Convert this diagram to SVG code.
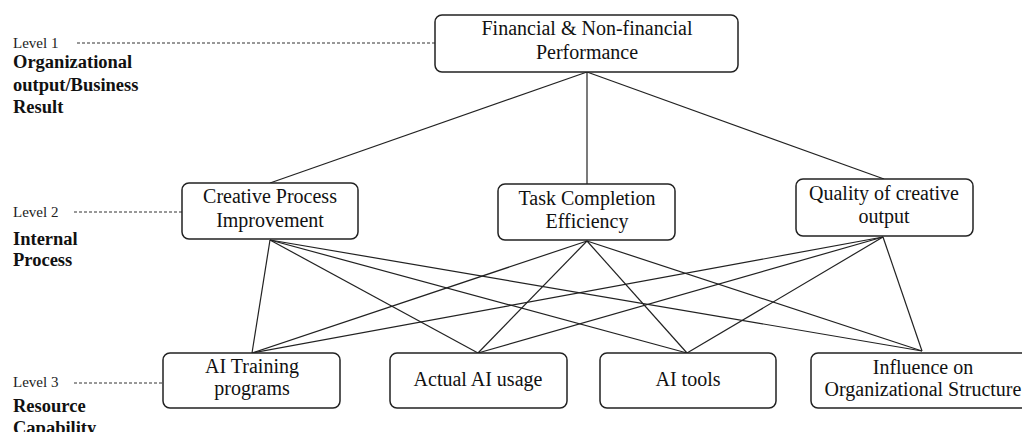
<svg xmlns="http://www.w3.org/2000/svg" width="1022" height="432" viewBox="0 0 1022 432">
  <style>
    .box { fill: #ffffff; stroke: #222222; stroke-width: 1.5; }
    .link { stroke: #222222; stroke-width: 1.2; fill: none; }
    .guide { stroke: #333333; stroke-width: 1; stroke-dasharray: 3 2; fill: none; }
    .label { font-family: "Liberation Serif", "Times New Roman", serif; font-size: 20px; fill: #111111; text-anchor: middle; }
    .lvl { font-family: "Liberation Serif", "Times New Roman", serif; font-size: 15px; fill: #222222; }
    .lvlname { font-family: "Liberation Serif", "Times New Roman", serif; font-size: 18.5px; font-weight: bold; fill: #111111; }
  </style>
  <rect width="1022" height="432" fill="#ffffff"/>

  <!-- level captions with dashed guides -->
  <g id="levels">
    <text class="lvl" x="13" y="48">Level 1</text>
    <line class="guide" x1="77" y1="43" x2="435" y2="43"/>
    <text class="lvlname" x="13" y="68">Organizational</text>
    <text class="lvlname" x="13" y="91">output/Business</text>
    <text class="lvlname" x="13" y="113">Result</text>

    <text class="lvl" x="13" y="217">Level 2</text>
    <line class="guide" x1="74" y1="212" x2="182" y2="212"/>
    <text class="lvlname" x="13" y="245">Internal</text>
    <text class="lvlname" x="13" y="266">Process</text>

    <text class="lvl" x="13" y="387">Level 3</text>
    <line class="guide" x1="74" y1="383" x2="163" y2="383"/>
    <text class="lvlname" x="13" y="412">Resource</text>
    <text class="lvlname" x="13" y="434">Capability</text>
  </g>

  <!-- connectors -->
  <g id="connectors">
    <line class="link" x1="587" y1="72" x2="270" y2="183"/>
    <line class="link" x1="587" y1="72" x2="587" y2="184"/>
    <line class="link" x1="587" y1="72" x2="884" y2="179"/>

    <line class="link" x1="270" y1="240" x2="252" y2="353"/>
    <line class="link" x1="270" y1="240" x2="478" y2="353"/>
    <line class="link" x1="270" y1="240" x2="687" y2="353"/>
    <line class="link" x1="270" y1="240" x2="922" y2="351"/>

    <line class="link" x1="587" y1="241" x2="252" y2="353"/>
    <line class="link" x1="587" y1="241" x2="478" y2="353"/>
    <line class="link" x1="587" y1="241" x2="687" y2="353"/>
    <line class="link" x1="587" y1="241" x2="922" y2="351"/>

    <line class="link" x1="883" y1="237" x2="252" y2="353"/>
    <line class="link" x1="883" y1="237" x2="478" y2="353"/>
    <line class="link" x1="883" y1="237" x2="687" y2="353"/>
    <line class="link" x1="883" y1="237" x2="922" y2="351"/>
  </g>

  <!-- level 1 -->
  <g id="node-performance">
    <rect class="box" x="435" y="15" width="303" height="57" rx="7"/>
    <text class="label" x="587" y="35">Financial &amp; Non-financial</text>
    <text class="label" x="587" y="59">Performance</text>
  </g>

  <!-- level 2 -->
  <g id="node-creative-process">
    <rect class="box" x="182" y="183" width="176" height="56" rx="7"/>
    <text class="label" x="270" y="203">Creative Process</text>
    <text class="label" x="270" y="227">Improvement</text>
  </g>
  <g id="node-task-completion">
    <rect class="box" x="498" y="184" width="177" height="56" rx="7"/>
    <text class="label" x="587" y="205">Task Completion</text>
    <text class="label" x="587" y="228">Efficiency</text>
  </g>
  <g id="node-quality">
    <rect class="box" x="796" y="179" width="177" height="57" rx="7"/>
    <text class="label" x="884" y="200">Quality of creative</text>
    <text class="label" x="884" y="223">output</text>
  </g>

  <!-- level 3 -->
  <g id="node-training">
    <rect class="box" x="163" y="353" width="177" height="55" rx="7"/>
    <text class="label" x="252" y="373">AI Training</text>
    <text class="label" x="252" y="395">programs</text>
  </g>
  <g id="node-usage">
    <rect class="box" x="390" y="353" width="177" height="55" rx="7"/>
    <text class="label" x="478" y="386">Actual AI usage</text>
  </g>
  <g id="node-tools">
    <rect class="box" x="600" y="353" width="176" height="55" rx="7"/>
    <text class="label" x="688" y="386">AI tools</text>
  </g>
  <g id="node-structure">
    <rect class="box" x="811" y="353" width="224" height="55" rx="7"/>
    <text class="label" x="923" y="374">Influence on</text>
    <text class="label" x="923" y="396">Organizational Structure</text>
  </g>
</svg>
